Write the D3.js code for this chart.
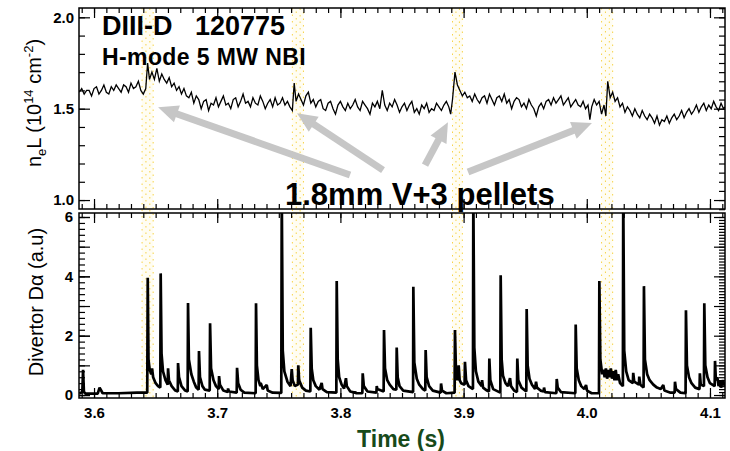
<!DOCTYPE html>
<html>
<head>
<meta charset="utf-8">
<script src="https://cdn.jsdelivr.net/npm/d3@7"></script>
<style>
body { margin: 0; background: #fff; }
svg { display: block; font-family: "Liberation Sans", Arial, sans-serif; }
</style>
</head>
<body>
<svg id="chart" width="730" height="451"></svg>
<script>
// line-integrated density, [time (s), neL (1e14 cm^-2)]
var neL = [
 [3.588,1.59],[3.590,1.61],[3.592,1.58],[3.594,1.60],[3.596,1.60],[3.598,1.57],[3.600,1.61],[3.602,1.62],
 [3.604,1.58],[3.606,1.60],[3.608,1.63],[3.610,1.59],[3.612,1.58],[3.614,1.62],[3.616,1.60],[3.618,1.63],
 [3.620,1.61],[3.622,1.59],[3.624,1.63],[3.626,1.62],[3.628,1.59],[3.630,1.64],[3.632,1.61],[3.634,1.62],
 [3.636,1.65],[3.638,1.60],[3.640,1.58],[3.642,1.61],[3.6435,1.75],[3.645,1.66],[3.647,1.70],[3.649,1.66],
 [3.651,1.72],[3.653,1.65],[3.655,1.69],[3.657,1.66],[3.659,1.64],[3.661,1.67],[3.663,1.62],[3.665,1.64],
 [3.667,1.60],[3.669,1.62],[3.671,1.58],[3.673,1.61],[3.675,1.57],[3.677,1.56],[3.679,1.59],[3.681,1.53],
 [3.683,1.57],[3.685,1.55],[3.687,1.50],[3.689,1.54],[3.691,1.55],[3.693,1.49],[3.695,1.53],[3.697,1.52],
 [3.699,1.56],[3.701,1.51],[3.703,1.54],[3.705,1.57],[3.707,1.52],[3.709,1.53],[3.711,1.50],[3.713,1.55],
 [3.715,1.56],[3.717,1.51],[3.719,1.54],[3.721,1.58],[3.723,1.53],[3.725,1.54],[3.727,1.51],[3.729,1.56],
 [3.731,1.53],[3.733,1.52],[3.735,1.57],[3.737,1.54],[3.739,1.50],[3.741,1.53],[3.743,1.55],[3.745,1.51],
 [3.747,1.56],[3.749,1.52],[3.751,1.53],[3.753,1.56],[3.755,1.52],[3.757,1.54],[3.759,1.51],[3.761,1.49],
 [3.7625,1.64],[3.764,1.54],[3.766,1.58],[3.768,1.55],[3.770,1.52],[3.772,1.57],[3.774,1.59],[3.776,1.53],
 [3.778,1.55],[3.780,1.51],[3.782,1.54],[3.784,1.55],[3.786,1.50],[3.788,1.49],[3.790,1.53],[3.792,1.54],
 [3.794,1.50],[3.796,1.47],[3.798,1.52],[3.800,1.54],[3.802,1.51],[3.804,1.49],[3.806,1.53],[3.808,1.50],
 [3.810,1.52],[3.812,1.55],[3.814,1.51],[3.816,1.49],[3.818,1.54],[3.820,1.52],[3.822,1.50],[3.824,1.47],
 [3.826,1.53],[3.828,1.51],[3.830,1.54],[3.832,1.50],[3.834,1.60],[3.836,1.52],[3.838,1.49],[3.840,1.53],
 [3.842,1.51],[3.844,1.55],[3.846,1.52],[3.848,1.48],[3.850,1.51],[3.852,1.53],[3.854,1.49],[3.856,1.52],
 [3.858,1.54],[3.860,1.48],[3.862,1.50],[3.864,1.47],[3.866,1.52],[3.868,1.50],[3.870,1.53],[3.872,1.48],
 [3.874,1.50],[3.876,1.49],[3.878,1.53],[3.880,1.51],[3.882,1.49],[3.884,1.52],[3.886,1.54],[3.888,1.51],
 [3.8895,1.47],[3.891,1.55],[3.893,1.70],[3.895,1.63],[3.897,1.60],[3.899,1.57],[3.901,1.59],[3.903,1.56],
 [3.905,1.57],[3.907,1.54],[3.909,1.58],[3.911,1.55],[3.913,1.53],[3.915,1.56],[3.917,1.57],[3.919,1.53],
 [3.921,1.58],[3.923,1.55],[3.925,1.52],[3.927,1.56],[3.929,1.57],[3.931,1.54],[3.933,1.58],[3.935,1.53],
 [3.937,1.55],[3.939,1.50],[3.941,1.54],[3.943,1.56],[3.945,1.55],[3.947,1.51],[3.949,1.53],[3.951,1.50],
 [3.953,1.55],[3.955,1.52],[3.957,1.50],[3.959,1.46],[3.961,1.51],[3.963,1.53],[3.965,1.50],[3.967,1.54],
 [3.969,1.55],[3.971,1.52],[3.973,1.56],[3.975,1.53],[3.977,1.55],[3.979,1.57],[3.981,1.52],[3.983,1.54],
 [3.985,1.56],[3.987,1.51],[3.989,1.53],[3.991,1.55],[3.993,1.52],[3.995,1.51],[3.997,1.54],[3.999,1.50],
 [4.001,1.52],[4.0025,1.44],[4.004,1.51],[4.006,1.55],[4.008,1.52],[4.010,1.54],[4.012,1.47],[4.014,1.52],
 [4.0155,1.46],[4.017,1.65],[4.019,1.56],[4.021,1.59],[4.023,1.54],[4.025,1.56],[4.027,1.51],[4.029,1.53],
 [4.031,1.48],[4.033,1.51],[4.035,1.49],[4.037,1.46],[4.039,1.50],[4.041,1.47],[4.043,1.45],[4.045,1.49],
 [4.047,1.46],[4.049,1.44],[4.051,1.47],[4.053,1.45],[4.055,1.42],[4.057,1.46],[4.059,1.41],[4.061,1.44],
 [4.063,1.43],[4.065,1.46],[4.067,1.42],[4.069,1.45],[4.071,1.47],[4.073,1.44],[4.075,1.46],[4.077,1.49],
 [4.079,1.45],[4.081,1.48],[4.083,1.50],[4.085,1.47],[4.087,1.49],[4.089,1.52],[4.091,1.48],[4.093,1.51],
 [4.095,1.53],[4.097,1.49],[4.099,1.52],[4.101,1.50],[4.103,1.54],[4.105,1.51],[4.107,1.49],[4.109,1.53],
 [4.111,1.50],[4.112,1.51]
];

// divertor D-alpha, [time (s), signal (a.u.)]
var dAlpha = [
 [3.588,0.05],[3.5905,0.1],[3.5911,0.85],[3.5918,0.1],[3.593,0.05],
 [3.603,0.05],[3.6045,0.25],[3.6052,0.2],[3.607,0.06],[3.62,0.06],[3.635,0.08],[3.6432,0.08],
 [3.6436,3.95],[3.6442,1.2],[3.6452,0.85],[3.6465,0.7],[3.6471,0.9],[3.648,0.6],[3.650,0.4],[3.652,0.3],[3.6538,0.25],
 [3.6541,4.1],[3.6548,1.4],[3.656,0.8],[3.658,0.5],[3.6598,0.35],
 [3.6601,0.9],[3.6608,0.5],[3.663,0.3],[3.666,0.15],[3.668,0.12],
 [3.6682,1.08],[3.669,0.6],[3.671,0.3],[3.674,0.15],[3.676,0.12],
 [3.6763,3.1],[3.677,1.2],[3.679,0.7],[3.681,0.45],[3.683,0.25],[3.6849,0.18],
 [3.6852,1.48],[3.686,0.6],[3.688,0.3],[3.690,0.18],[3.6939,0.15],
 [3.6942,2.42],[3.695,0.9],[3.697,0.5],[3.699,0.3],[3.7012,0.2],
 [3.7015,0.64],[3.7022,0.35],[3.705,0.15],[3.7085,0.1],
 [3.7088,0.22],[3.7095,0.12],[3.7158,0.08],
 [3.7161,0.92],[3.717,0.4],[3.719,0.18],[3.722,0.08],[3.7312,0.06],
 [3.7315,3.09],[3.7322,1.0],[3.7335,0.5],[3.735,0.3],[3.7353,0.41],[3.737,0.2],[3.7402,0.34],[3.741,0.15],[3.745,0.08],[3.752,0.07],
 [3.7524,6.8],[3.7532,1.5],[3.7545,0.8],[3.757,0.45],[3.7595,0.3],
 [3.7605,0.87],[3.7612,0.5],[3.763,0.3],[3.7655,0.35],
 [3.7658,1.0],[3.7665,0.5],[3.769,0.25],[3.772,0.15],[3.7756,0.12],
 [3.7759,2.27],[3.7767,0.9],[3.778,0.5],[3.780,0.3],[3.783,0.18],
 [3.7848,0.41],[3.7855,0.2],[3.789,0.1],[3.7967,0.08],
 [3.797,3.84],[3.7978,1.2],[3.799,0.6],[3.801,0.35],[3.803,0.22],
 [3.8045,0.57],[3.8052,0.3],[3.808,0.12],[3.8117,0.08],
 [3.8119,0.12],[3.8125,0.06],[3.8178,0.06],
 [3.8181,0.73],[3.819,0.3],[3.822,0.12],[3.8292,0.08],
 [3.8295,0.3],[3.830,0.2],[3.8351,0.12],
 [3.8354,2.19],[3.8362,0.9],[3.838,0.5],[3.840,0.35],[3.843,0.2],[3.8454,0.18],
 [3.8457,1.6],[3.8465,0.6],[3.848,0.3],[3.851,0.15],[3.859,0.1],
 [3.8592,3.65],[3.86,1.1],[3.862,0.55],[3.864,0.35],[3.867,0.2],[3.8689,0.15],
 [3.8692,1.52],[3.87,0.6],[3.872,0.3],[3.875,0.15],[3.8814,0.08],
 [3.8817,0.39],[3.8825,0.15],[3.886,0.06],[3.8927,0.08],
 [3.893,2.19],[3.8938,0.8],[3.895,0.5],[3.896,1.0],[3.8968,0.5],[3.898,0.4],[3.9008,0.35],
 [3.9011,1.12],[3.902,0.5],[3.904,0.3],[3.9076,0.2],
 [3.9079,6.8],[3.9087,1.6],[3.910,0.8],[3.912,0.45],[3.9147,0.3],
 [3.915,0.5],[3.9158,0.25],[3.919,0.15],[3.9206,0.12],
 [3.9209,1.23],[3.9217,0.5],[3.924,0.2],[3.9298,0.08],
 [3.9301,4.04],[3.9309,1.2],[3.932,0.65],[3.934,0.4],[3.936,0.3],
 [3.9377,0.57],[3.9385,0.3],[3.941,0.15],[3.9433,0.1],
 [3.9436,1.23],[3.9444,0.5],[3.947,0.25],[3.9509,0.12],
 [3.9512,2.9],[3.952,1.0],[3.9535,0.55],[3.9555,0.35],[3.958,0.2],
 [3.9588,0.45],[3.9596,0.25],[3.9625,0.15],[3.965,0.12],
 [3.9653,0.25],[3.966,0.1],[3.9753,0.06],
 [3.9756,0.54],[3.9764,0.25],[3.979,0.1],[3.9907,0.06],
 [3.991,2.38],[3.9918,0.9],[3.9935,0.5],[3.9955,0.3],[3.998,0.2],
 [3.9994,0.34],[4.0002,0.15],[4.004,0.06],[4.0099,0.06],
 [4.0102,3.84],[4.011,1.2],[4.0125,0.7],[4.0135,0.85],[4.0145,0.6],[4.0155,0.9],[4.0165,0.55],[4.0175,0.85],
 [4.0185,0.6],[4.0195,0.9],[4.0205,0.55],[4.0215,0.8],[4.0225,0.5],[4.0235,0.85],[4.0245,0.5],[4.0255,0.7],[4.027,0.4],[4.0293,0.3],
 [4.0296,6.8],[4.0304,1.5],[4.032,0.8],[4.034,0.5],[4.0374,0.4],
 [4.0377,0.75],[4.0385,0.45],[4.0423,0.35],
 [4.0426,0.62],[4.0435,0.35],[4.0461,0.25],
 [4.0464,3.67],[4.0472,1.2],[4.049,0.7],[4.051,0.5],[4.054,0.35],[4.057,0.25],[4.060,0.2],
 [4.0621,0.34],[4.063,0.15],[4.068,0.08],[4.0713,0.08],
 [4.0716,0.45],[4.0724,0.2],[4.076,0.08],[4.0802,0.06],
 [4.0805,2.86],[4.0813,1.0],[4.083,0.6],[4.085,0.4],[4.088,0.25],[4.0915,0.2],
 [4.0918,0.73],[4.0925,0.35],[4.0951,0.3],
 [4.0954,3.09],[4.0962,1.0],[4.098,0.6],[4.100,0.4],[4.1038,0.3],
 [4.1041,1.15],[4.1048,0.5],[4.106,0.6],[4.107,0.3],[4.1081,0.5],[4.109,0.25],[4.1105,0.5],[4.112,0.3]
];

// pellet arrival windows (s)
var pelletStart = [3.639, 3.761, 3.891, 4.012];
var pelletEnd   = [3.648, 3.770, 3.899, 4.021];

// arrows: tail and tip in (time, neL) units
var arrowTail = [[3.8078,1.137],[3.8346,1.164],[3.8687,1.191],[3.9036,1.153]];
var arrowTip  = [[3.6520,1.508],[3.7648,1.475],[3.8873,1.426],[4.0042,1.421]];

var xTicks  = [3.6, 3.7, 3.8, 3.9, 4.0, 4.1];
var neTicks = [1.0, 1.5, 2.0];
var daTicks = [0, 2, 4, 6];

var svg = d3.select("#chart");
var left = 79, right = 725, topTop = 8, topBot = 209, botTop = 213, botBot = 398;

var x   = d3.scaleLinear().domain([3.5878, 4.1122]).range([left, right]);
var yNe = d3.scaleLinear().domain([0.951, 2.051]).range([topBot, topTop]);
var yDa = d3.scaleLinear().domain([-0.10, 6.135]).range([botBot, botTop]);

var defs = svg.append("defs");
defs.append("clipPath").attr("id", "clipTop").append("rect")
    .attr("x", left).attr("y", topTop).attr("width", right - left).attr("height", topBot - topTop);
defs.append("clipPath").attr("id", "clipBot").append("rect")
    .attr("x", left).attr("y", botTop).attr("width", right - left).attr("height", botBot - botTop);

// pellet bands through both panels
var bands = svg.append("g").selectAll("g")
    .data(d3.zip(pelletStart, pelletEnd))
    .enter().append("g");
bands.append("rect")
    .attr("x", d => x(d[0])).attr("width", d => x(d[1]) - x(d[0]))
    .attr("y", topTop).attr("height", botBot - topTop)
    .attr("fill", "#fffdf2");
[0, 0.35, 0.7, 1].forEach(function(f, i) {
    bands.append("line")
        .attr("x1", d => x(d[0]) + f * (x(d[1]) - x(d[0])))
        .attr("x2", d => x(d[0]) + f * (x(d[1]) - x(d[0])))
        .attr("y1", topTop).attr("y2", botBot)
        .attr("stroke", "#f6d34a").attr("stroke-width", 1)
        .attr("stroke-dasharray", "1.5,5").attr("stroke-dashoffset", i * 3);
});

// traces
var lineNe = d3.line().x(d => x(d[0])).y(d => yNe(d[1]));
var lineDa = d3.line().x(d => x(d[0])).y(d => yDa(d[1]));

svg.append("path").datum(neL)
    .attr("clip-path", "url(#clipTop)")
    .attr("d", lineNe).attr("fill", "none")
    .attr("stroke", "#000").attr("stroke-width", 1.3);

svg.append("path").datum(dAlpha)
    .attr("clip-path", "url(#clipBot)")
    .attr("d", lineDa).attr("fill", "none")
    .attr("stroke", "#000").attr("stroke-width", 2.7)
    .attr("stroke-linejoin", "bevel");

// axes, all ticks inward
var xMinor = d3.range(3.59, 4.115, 0.01);
function tickAxis(axis, pos, vals, size, fmt, pad) {
    var g = svg.append("g").attr("transform", pos)
        .call(axis.tickValues(vals).tickSize(size).tickPadding(pad || 4).tickFormat(fmt || ""));
    g.select(".domain").remove();
    g.selectAll("line").attr("stroke", "#000").attr("stroke-width", 1.2);
    g.selectAll("text").attr("font-size", 15).attr("font-weight", "bold").attr("fill", "#000")
        .attr("font-family", "Liberation Sans, Arial, sans-serif");
    return g;
}

// top panel
tickAxis(d3.axisLeft(yNe), `translate(${left},0)`, d3.range(1.0, 2.05, 0.1), -6);
tickAxis(d3.axisLeft(yNe), `translate(${left},0)`, neTicks, -11, d3.format(".1f"), 5);
tickAxis(d3.axisRight(yNe), `translate(${right},0)`, d3.range(0.95, 2.06, 0.05), -6);
tickAxis(d3.axisRight(yNe), `translate(${right},0)`, neTicks, -11);
tickAxis(d3.axisTop(x), `translate(0,${topTop})`, xMinor, -5);
tickAxis(d3.axisTop(x), `translate(0,${topTop})`, xTicks, -10);
tickAxis(d3.axisBottom(x), `translate(0,${topBot})`, xMinor, -5);
tickAxis(d3.axisBottom(x), `translate(0,${topBot})`, xTicks, -10);

// bottom panel
tickAxis(d3.axisLeft(yDa), `translate(${left},0)`, d3.range(0, 6.1, 0.2), -6);
tickAxis(d3.axisLeft(yDa), `translate(${left},0)`, d3.range(0, 7, 1), -11);
tickAxis(d3.axisLeft(yDa), `translate(${left},0)`, daTicks, -11, d3.format("d"), 6);
tickAxis(d3.axisRight(yDa), `translate(${right},0)`, d3.range(0, 6.1, 0.1), -6);
tickAxis(d3.axisRight(yDa), `translate(${right},0)`, d3.range(0, 7, 1), -11);
tickAxis(d3.axisTop(x), `translate(0,${botTop})`, xMinor, -5);
tickAxis(d3.axisTop(x), `translate(0,${botTop})`, xTicks, -10);
tickAxis(d3.axisBottom(x), `translate(0,${botBot})`, xMinor, -5);
tickAxis(d3.axisBottom(x), `translate(0,${botBot})`, xTicks, -10, d3.format(".1f"), 9);

// frames
[[topTop, topBot], [botTop, botBot]].forEach(function(p) {
    svg.append("rect").attr("x", left).attr("y", p[0])
        .attr("width", right - left).attr("height", p[1] - p[0])
        .attr("fill", "none").attr("stroke", "#000").attr("stroke-width", 1.5);
});

// arrows to the pellet events
var arrowG = svg.append("g").attr("fill", "#c6c6c6").attr("stroke", "#c6c6c6");
d3.zip(arrowTail, arrowTip).forEach(function(a) {
    var x0 = x(a[0][0]), y0 = yNe(a[0][1]), x1 = x(a[1][0]), y1 = yNe(a[1][1]);
    var L = Math.hypot(x1 - x0, y1 - y0), ux = (x1 - x0) / L, uy = (y1 - y0) / L;
    var hl = 20, hw = 9, bx = x1 - ux * hl, by = y1 - uy * hl;
    arrowG.append("line").attr("x1", x0).attr("y1", y0).attr("x2", bx + ux * 2).attr("y2", by + uy * 2)
        .attr("stroke-width", 7);
    arrowG.append("polygon").attr("stroke", "none")
        .attr("points", [[x1, y1], [bx - uy * hw, by + ux * hw], [bx + uy * hw, by - ux * hw]].join(" "));
});

// labels
svg.append("text").attr("x", 102).attr("y", 35)
    .attr("font-size", 27).attr("font-weight", "bold").text("DIII-D");
svg.append("text").attr("x", 195).attr("y", 35)
    .attr("font-size", 27).attr("font-weight", "bold").text("120775");
svg.append("text").attr("x", 102).attr("y", 65)
    .attr("font-size", 23).attr("font-weight", "bold").attr("letter-spacing", 0.4)
    .text("H-mode 5 MW NBI");
svg.append("text").attr("x", 285).attr("y", 205)
    .attr("font-size", 31).attr("font-weight", "bold").text("1.8mm V+3 pellets");

var yt = svg.append("text").attr("transform", "translate(41,103) rotate(-90)")
    .attr("text-anchor", "middle").attr("font-size", 20);
yt.append("tspan").text("n");
yt.append("tspan").attr("dy", 5).attr("font-size", 13).text("e");
yt.append("tspan").attr("dy", -5).text("L (10");
yt.append("tspan").attr("dy", -8).attr("font-size", 13).text("14");
yt.append("tspan").attr("dy", 8).text(" cm");
yt.append("tspan").attr("dy", -8).attr("font-size", 13).text("-2");
yt.append("tspan").attr("dy", 8).text(")");

svg.append("text").attr("transform", "translate(43,302) rotate(-90)")
    .attr("text-anchor", "middle").attr("font-size", 20).text("Divertor D\u03b1 (a.u)");

svg.append("text").attr("x", 401).attr("y", 447).attr("text-anchor", "middle")
    .attr("font-size", 23).attr("font-weight", "bold").attr("fill", "#174a1a").text("Time (s)");
</script>
</body>
</html>
